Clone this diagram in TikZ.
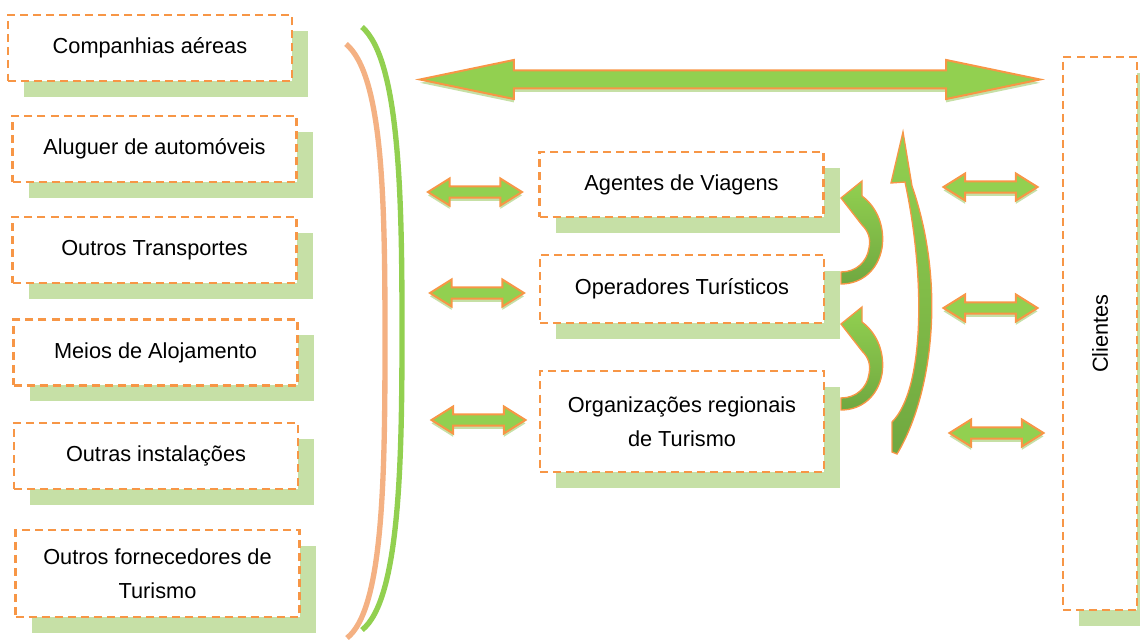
\documentclass[tikz,border=0pt]{standalone}
\usepackage{fontspec}
\setmainfont{Liberation Sans}
\usetikzlibrary{positioning,
	shapes.arrows,
	shadows}
\definecolor{dashorange}{RGB}{247,150,70}
\definecolor{shadegreen}{RGB}{198,224,166}
\definecolor{arrowgreen}{RGB}{146,208,80}
\definecolor{darkgreen}{RGB}{112,168,64}
\definecolor{paleorange}{RGB}{244,177,131}
\tikzstyle{box}=[draw=dashorange, line width=1.9pt, dash pattern=on 6pt off 3.8pt,
		fill=white, align=center, inner sep=0,
		font=\fontsize{16.3}{25.5}\selectfont,
		general shadow={fill=shadegreen, opacity=1, shadow xshift=12pt, shadow yshift=-12pt}]
\tikzstyle{sidebox}=[box, minimum width=213pt, minimum height=49.5pt]
\tikzstyle{midbox}=[box, minimum width=213pt]
\tikzstyle{flow}=[double arrow, draw=dashorange, line width=1.5pt, fill=arrowgreen,
		inner sep=0, general shadow={fill=shadegreen, opacity=1, shadow yshift=-2.5pt}]
\tikzstyle{smallflow}=[flow, minimum height=70.5pt, inner ysep=3.4pt,
		double arrow head extend=6pt, double arrow tip angle=64]
\tikzstyle{curlarrow}=[draw=dashorange, line width=1pt, top color=arrowgreen, bottom color=darkgreen]

\begin{document}
\begin{tikzpicture}[x=0.75pt, y=-0.75pt]
	\useasboundingbox (0,0) rectangle (1140,641);

	\node[sidebox] (comp) at (150,48) {Companhias aéreas};
	\node[sidebox] (alug) at (154.5,149) {Aluguer de automóveis};
	\node[sidebox] (outtransp) at (154.5,250) {Outros Transportes};
	\node[sidebox] (meios) at (155.5,352.5) {Meios de Alojamento};
	\node[sidebox] (outinst) at (156,456) {Outras instalações};
	\node[sidebox, minimum height=65pt] (outforn) at (157.5,573.5) {Outros fornecedores de\\Turismo};

	\draw[paleorange, line width=4pt] (346,44) .. controls (383,75) and (385,200) .. (385,340)
		.. controls (385,480) and (383,610) .. (347,638);
	\draw[arrowgreen, line width=4pt] (362,27) .. controls (400,60) and (402,200) .. (402,330)
		.. controls (402,460) and (400,600) .. (362,630);

	\node[flow, minimum height=465pt, inner ysep=6pt, double arrow head extend=7.9pt,
		double arrow tip angle=23.5] (topflow) at (730,79.5) {};

	\node[midbox, minimum height=48.75pt] (agentes) at (681.5,184.5) {Agentes de Viagens};
	\node[midbox, minimum height=51pt] (operadores) at (682,289) {Operadores Turísticos};
	\node[midbox, minimum height=75.75pt] (orgreg) at (682,421.5) {Organizações regionais\\de Turismo};

	\node[box, minimum width=55.5pt, minimum height=414.75pt] (clientes) at (1100,333.5)
		{\rotatebox{90}{Clientes}};

	\node[smallflow] (la1) at (475,192) {};
	\node[smallflow] (la2) at (477,293) {};
	\node[smallflow] (la3) at (478.5,420) {};
	\node[smallflow] (ra1) at (990.5,187) {};
	\node[smallflow] (ra2) at (990.5,308) {};
	\node[smallflow] (ra3) at (996.5,433) {};

	\path[curlarrow] (841,198) -- (862,181) -- (862,196) .. controls (878,208) and (885,228) .. (882,248)
		.. controls (878,270) and (862,284) .. (841,284) -- (841,272)
		.. controls (856,272) and (867,262) .. (869,248) .. controls (871,238) and (868,231) .. (862,225) -- cycle;
	\path[curlarrow, yshift=-94.5pt] (841,198) -- (862,181) -- (862,196) .. controls (878,208) and (885,228) .. (882,248)
		.. controls (878,270) and (862,284) .. (841,284) -- (841,272)
		.. controls (856,272) and (867,262) .. (869,248) .. controls (871,238) and (868,231) .. (862,225) -- cycle;
	\path[curlarrow] (897,454) .. controls (930,400) and (948,290) .. (912,186) -- (903,132) -- (891,183) -- (905,182)
		.. controls (926,280) and (924,390) .. (892,422) -- (892,452) -- cycle;
\end{tikzpicture}
\end{document}
